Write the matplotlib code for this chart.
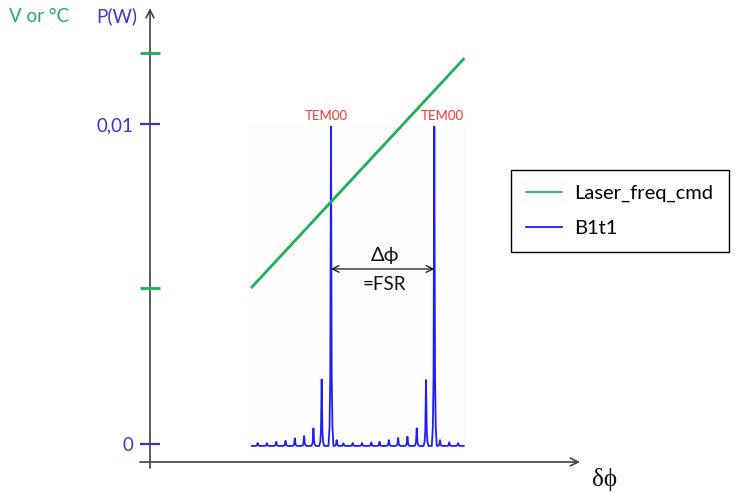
import matplotlib
matplotlib.use("Agg")
import matplotlib.pyplot as plt
from matplotlib.lines import Line2D
from matplotlib.patches import Rectangle

plt.rcParams['font.family'] = ['Lato', 'DejaVu Sans']

# ---------------- data ----------------
# phase offset in units of FSR, power in W
peak_dphi = [0.29, 0.38, 0.47, 0.56, 0.65, 0.74, 0.83, 0.91, 1.00, 1.055,
             1.12, 1.21, 1.30, 1.39, 1.47, 1.56, 1.65, 1.74, 1.83, 1.92,
             2.00, 2.055, 2.145, 2.23]
peak_power = [0.00003, 0.00003, 0.00007, 0.00010, 0.00018, 0.00025, 0.00049,
              0.00202, 0.00992, 0.00012,
              0.00002, 0.00003, 0.00003, 0.00005, 0.00007, 0.00012, 0.00019,
              0.00023, 0.00049, 0.00200, 0.00992, 0.00012, 0.00005, 0.00003]
baseline_power = -0.00006
trace_range = [0.235, 2.285]

cmd_dphi = [0.235, 2.281]
cmd_value = [1.004, 1.973]

power_ticks = [0.0, 0.01]
power_tick_labels = ['0', '0,01']
cmd_ticks = [1.0, 2.0]

fsr_span = [1.0, 2.0]
series_labels = ['Laser_freq_cmd', 'B1t1']

# ---------------- styles ----------------
GREEN = '#1DB05A'
BLUE_TXT = '#4A2BD8'
TRACE = '#1F1FF5'
RED = '#FF3333'
AXC = '#404040'

fig = plt.figure(figsize=(7.35, 4.94), dpi=100)
ax = fig.add_axes([0, 0, 1, 1])
ax.set_xlim(-2.204, 4.911)
ax.set_ylim(-0.0015625, 0.013875)
for s in ax.spines.values():
    s.set_visible(False)
ax.set_xticks([])

# faint screenshot background behind the trace
ax.add_patch(Rectangle((0.2, -0.0002), 2.12, 0.0102, facecolor='#FDFDFD',
                       edgecolor='none', zorder=0))

# trace built from read peaks (fixed narrow peak template)
offs = [-0.024, -0.014, -0.007, 0.0, 0.007, 0.014, 0.024]
fracs = [0.0, 0.06, 0.22, 1.0, 0.22, 0.06, 0.0]
tx = [trace_range[0]]
ty = [baseline_power]
for x, h in zip(peak_dphi, peak_power):
    for o, f in zip(offs, fracs):
        tx.append(x + o)
        ty.append(baseline_power + f * (h - baseline_power))
tx.append(trace_range[1])
ty.append(baseline_power)
ax.plot(tx, ty, color=TRACE, lw=1.3, zorder=3)

# y axis (P) ticks at a positioned spine
yx = -0.752
ax.spines['left'].set_position(('data', yx))
ax.set_yticks(power_ticks)
ax.set_yticklabels(power_tick_labels)
ax.tick_params(axis='y', direction='inout', length=14.4, width=1.6,
               colors=BLUE_TXT, labelsize=13.5, pad=5)

# secondary scale (V or °C)
ax2 = ax.twinx()
ax2.set_ylim(0.1234, 2.2255)
for s in ax2.spines.values():
    s.set_visible(False)
ax2.yaxis.tick_left()
ax2.spines['left'].set_position(('data', yx))
ax2.set_yticks(cmd_ticks)
ax2.set_yticklabels(['', ''])
ax2.tick_params(axis='y', direction='inout', length=14.4, width=2.0,
                colors=GREEN)
ax2.plot(cmd_dphi, cmd_value, color=GREEN, lw=2.0, zorder=3)

# axes arrows
ax.annotate('', xy=(yx, 0.01362), xytext=(yx, -0.00075),
            arrowprops=dict(arrowstyle='->', color=AXC, lw=1.2,
                            mutation_scale=14, shrinkA=0, shrinkB=0))
ax.annotate('', xy=(3.41, -0.0005625), xytext=(-0.849, -0.0005625),
            arrowprops=dict(arrowstyle='->', color=AXC, lw=1.2,
                            mutation_scale=14, shrinkA=0, shrinkB=0))

# axis titles
ax.text(-1.827, 0.01337, 'V or °C', color=GREEN, fontsize=13.5,
        ha='center', va='center')
ax.text(-1.072, 0.01337, 'P(W)', color=BLUE_TXT, fontsize=13.5,
        ha='center', va='center')
ax.text(3.652, -0.00112, 'δϕ', fontsize=18, ha='center', va='center',
        family=['Liberation Serif', 'DejaVu Serif'], color='#111111')

# TEM00 labels
ax.text(0.955, 0.01024, 'TEM00', color=RED, fontsize=9.5, ha='center', va='center')
ax.text(2.075, 0.01024, 'TEM00', color=RED, fontsize=9.5, ha='center', va='center')

# FSR arrow
ax.annotate('', xy=(fsr_span[1], 0.00547), xytext=(fsr_span[0], 0.00547),
            arrowprops=dict(arrowstyle='<->', color='#111111', lw=0.9,
                            mutation_scale=12, shrinkA=0, shrinkB=0))
ax.text(1.52, 0.0059, 'Δϕ', fontsize=14.5, ha='center', va='center', color='#111111')
ax.text(1.52, 0.00497, '=FSR', fontsize=13.5, ha='center', va='center', color='#111111')

# legend
handles = [Line2D([], [], color=GREEN, lw=1.3), Line2D([], [], color=TRACE, lw=1.3)]
leg = ax.legend(handles, series_labels, loc='upper left',
                bbox_to_anchor=(511 / 735, 1 - 170 / 494),
                bbox_transform=fig.transFigure, frameon=True, fancybox=False,
                edgecolor='black', framealpha=1, borderaxespad=0,
                borderpad=0.75, handlelength=1.8, handletextpad=0.6,
                labelspacing=0.85, prop={'family': ['Lato', 'DejaVu Sans'], 'size': 14.5})
leg.get_frame().set_linewidth(1.0)
leg.set_zorder(5)

fig.savefig('out.png', dpi=100)
